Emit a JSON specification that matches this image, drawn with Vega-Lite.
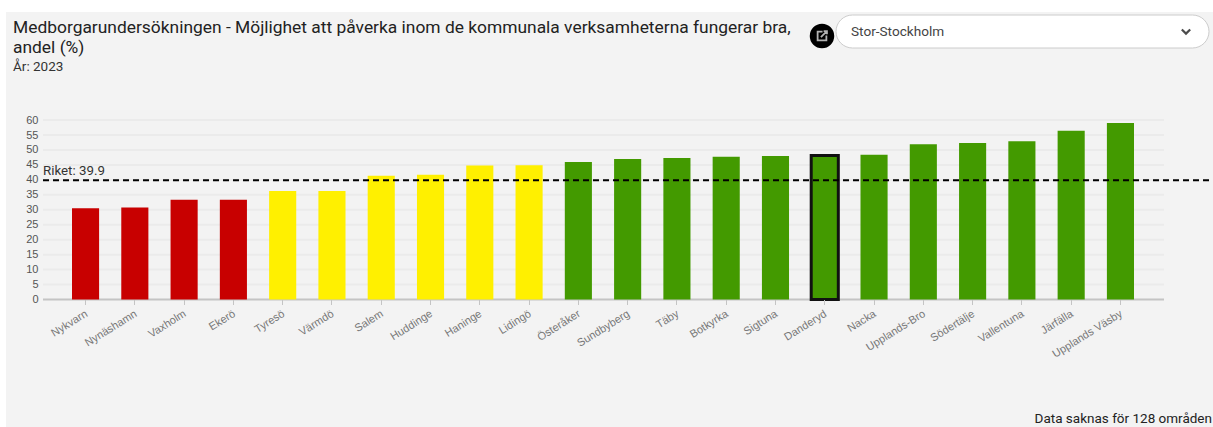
{"$schema":"https://vega.github.io/schema/vega-lite/v6.json","width":1207,"height":415,"autosize":{"type":"none"},"padding":{"left":6,"top":12,"right":0,"bottom":0},"background":"#ffffff","config":{"view":{"fill":"#f3f3f3","stroke":null}},
"title":{"text":["Medborgarundersökningen - Möjlighet att påverka inom de kommunala verksamheterna fungerar bra,","andel (%)"],"subtitle":"År: 2023","anchor":"start","frame":"group","orient":"top","offset":-61,"dx":7,"font":"Roboto","fontSize":17.4,"fontWeight":"normal","color":"#222222","lineHeight":20,"subtitleFont":"Roboto","subtitleFontSize":13.5,"subtitleColor":"#333333","subtitlePadding":3},
"datasets":{"rows":[
{"Kommun":"Nykvarn","Andel":30.5,"Grupp":"Låg"},{"Kommun":"Nynäshamn","Andel":30.8,"Grupp":"Låg"},{"Kommun":"Vaxholm","Andel":33.4,"Grupp":"Låg"},{"Kommun":"Ekerö","Andel":33.4,"Grupp":"Låg"},{"Kommun":"Tyresö","Andel":36.3,"Grupp":"Mellan"},{"Kommun":"Värmdö","Andel":36.3,"Grupp":"Mellan"},{"Kommun":"Salem","Andel":41.4,"Grupp":"Mellan"},{"Kommun":"Huddinge","Andel":41.7,"Grupp":"Mellan"},{"Kommun":"Haninge","Andel":44.8,"Grupp":"Mellan"},{"Kommun":"Lidingö","Andel":44.9,"Grupp":"Mellan"},{"Kommun":"Österåker","Andel":46,"Grupp":"Hög"},{"Kommun":"Sundbyberg","Andel":47,"Grupp":"Hög"},{"Kommun":"Täby","Andel":47.3,"Grupp":"Hög"},{"Kommun":"Botkyrka","Andel":47.7,"Grupp":"Hög"},{"Kommun":"Sigtuna","Andel":48,"Grupp":"Hög"},{"Kommun":"Danderyd","Andel":48.2,"Grupp":"Hög"},{"Kommun":"Nacka","Andel":48.4,"Grupp":"Hög"},{"Kommun":"Upplands-Bro","Andel":51.9,"Grupp":"Hög"},{"Kommun":"Södertälje","Andel":52.3,"Grupp":"Hög"},{"Kommun":"Vallentuna","Andel":52.9,"Grupp":"Hög"},{"Kommun":"Järfälla","Andel":56.4,"Grupp":"Hög"},{"Kommun":"Upplands Väsby","Andel":59,"Grupp":"Hög"}],
"ticks":[{"v":5},{"v":10},{"v":15},{"v":20},{"v":25},{"v":30},{"v":35},{"v":40},{"v":45},{"v":50},{"v":55},{"v":60}],
"one":[{"a":1}]},
"resolve":{"scale":{"x":"independent","y":"independent"},"axis":{"x":"independent","y":"independent"}},
"layer":[
{"data":{"name":"ticks"},"mark":{"type":"rule","color":"#ebebeb","strokeWidth":2},"encoding":{"x":{"datum":37,"type":"quantitative","scale":{"domain":[0,1207]},"axis":null},"x2":{"datum":1158},"y":{"field":"v","type":"quantitative","scale":{"domain":[-42.64,96.15],"nice":false,"zero":false},"axis":null}}},
{"data":{"name":"one"},"mark":{"type":"rule","color":"#c4c4c4","strokeWidth":2},"encoding":{"x":{"datum":37,"type":"quantitative","scale":{"domain":[0,1207]},"axis":null},"x2":{"datum":1158},"y":{"datum":0,"type":"quantitative","scale":{"domain":[-42.64,96.15],"nice":false,"zero":false},"axis":null}}},
{"data":{"name":"rows"},"mark":{"type":"bar"},"encoding":{
"x":{"field":"Kommun","type":"nominal","sort":null,"title":null,"scale":{"paddingInner":0.45,"paddingOuter":0,"range":[66,1128]},"axis":{"offset":-127.5,"domain":false,"labelAngle":-32,"labelAlign":"right","labelBaseline":"top","labelFont":"Liberation Sans","labelFontSize":11,"labelColor":"#777777","tickColor":"#c4c4c4","tickSize":5,"tickWidth":1,"labelPadding":3,"labelOffset":-2,"grid":false,"labelOverlap":false,"zindex":1}},
"y":{"field":"Andel","type":"quantitative","title":null,"scale":{"domain":[-42.64,96.15],"nice":false,"zero":false},"axis":{"offset":-37,"values":[0,5,10,15,20,25,30,35,40,45,50,55,60],"domain":false,"ticks":false,"labelPadding":5,"labelFont":"Liberation Sans","labelFontSize":11,"labelColor":"#555555","grid":false}},
"y2":{"datum":0},
"color":{"field":"Grupp","type":"nominal","legend":null,"scale":{"domain":["Låg","Mellan","Hög"],"range":["#c80000","#fff000","#439a00"]}},
"stroke":{"condition":{"test":"datum.Kommun==='Danderyd'","value":"#111111"},"value":null},
"strokeWidth":{"condition":{"test":"datum.Kommun==='Danderyd'","value":3},"value":0}}},
{"data":{"name":"one"},"mark":{"type":"rule","color":"#000000","strokeWidth":2,"strokeDash":[6,4]},"encoding":{"x":{"datum":37,"type":"quantitative","scale":{"domain":[0,1207]},"axis":null},"x2":{"datum":1207},"y":{"datum":39.9,"type":"quantitative","scale":{"domain":[-42.64,96.15],"nice":false,"zero":false},"axis":null}}},
{"data":{"name":"one"},"mark":{"type":"text","text":"Riket: 39.9","align":"left","baseline":"bottom","font":"Roboto","fontSize":13.3,"color":"#333333","dy":-2},"encoding":{"x":{"datum":37,"type":"quantitative","scale":{"domain":[0,1207]},"axis":null},"y":{"datum":39.9,"type":"quantitative","scale":{"domain":[-42.64,96.15],"nice":false,"zero":false},"axis":null}}},
{"data":{"name":"one"},"mark":{"type":"text","text":"Data saknas för 128 områden","align":"right","baseline":"bottom","font":"Roboto","fontSize":13.5,"color":"#222222"},"encoding":{"x":{"datum":1206,"type":"quantitative","scale":{"domain":[0,1207]},"axis":null},"y":{"datum":414,"type":"quantitative","scale":{"domain":[0,415],"reverse":true,"nice":false,"zero":false},"axis":null}}},
{"data":{"name":"one"},"mark":{"type":"rect","fill":"#ffffff","stroke":"#cccccc","strokeWidth":1,"cornerRadius":17},"encoding":{"x":{"datum":830,"type":"quantitative","scale":{"domain":[0,1207]},"axis":null},"x2":{"datum":1203},"y":{"datum":3,"type":"quantitative","scale":{"domain":[0,415],"reverse":true,"nice":false,"zero":false},"axis":null},"y2":{"datum":36}}},
{"data":{"name":"one"},"mark":{"type":"text","text":"Stor-Stockholm","align":"left","baseline":"middle","font":"Roboto","fontSize":13.6,"color":"#444444"},"encoding":{"x":{"datum":845,"type":"quantitative","scale":{"domain":[0,1207]},"axis":null},"y":{"datum":19.5,"type":"quantitative","scale":{"domain":[0,415],"reverse":true,"nice":false,"zero":false},"axis":null}}},
{"data":{"name":"one"},"mark":{"type":"point","shape":"M-1,-0.5L0,0.5L1,-0.5","filled":false,"stroke":"#000000","strokeWidth":2.2,"size":70},"encoding":{"x":{"datum":1180,"type":"quantitative","scale":{"domain":[0,1207]},"axis":null},"y":{"datum":19.5,"type":"quantitative","scale":{"domain":[0,415],"reverse":true,"nice":false,"zero":false},"axis":null}}},
{"data":{"name":"one"},"mark":{"type":"point","shape":"circle","filled":true,"fill":"#000000","opacity":1,"size":600},"encoding":{"x":{"datum":816,"type":"quantitative","scale":{"domain":[0,1207]},"axis":null},"y":{"datum":24,"type":"quantitative","scale":{"domain":[0,415],"reverse":true,"nice":false,"zero":false},"axis":null}}},
{"data":{"name":"one"},"mark":{"type":"point","shape":"M0.1,-0.8L-0.8,-0.8L-0.8,0.8L0.8,0.8L0.8,-0.1M-0.2,0.2L0.9,-0.9M0.3,-0.9L0.9,-0.9L0.9,-0.3","filled":false,"stroke":"#ffffff","strokeWidth":1.8,"size":120},"encoding":{"x":{"datum":816,"type":"quantitative","scale":{"domain":[0,1207]},"axis":null},"y":{"datum":24,"type":"quantitative","scale":{"domain":[0,415],"reverse":true,"nice":false,"zero":false},"axis":null}}}
]}
